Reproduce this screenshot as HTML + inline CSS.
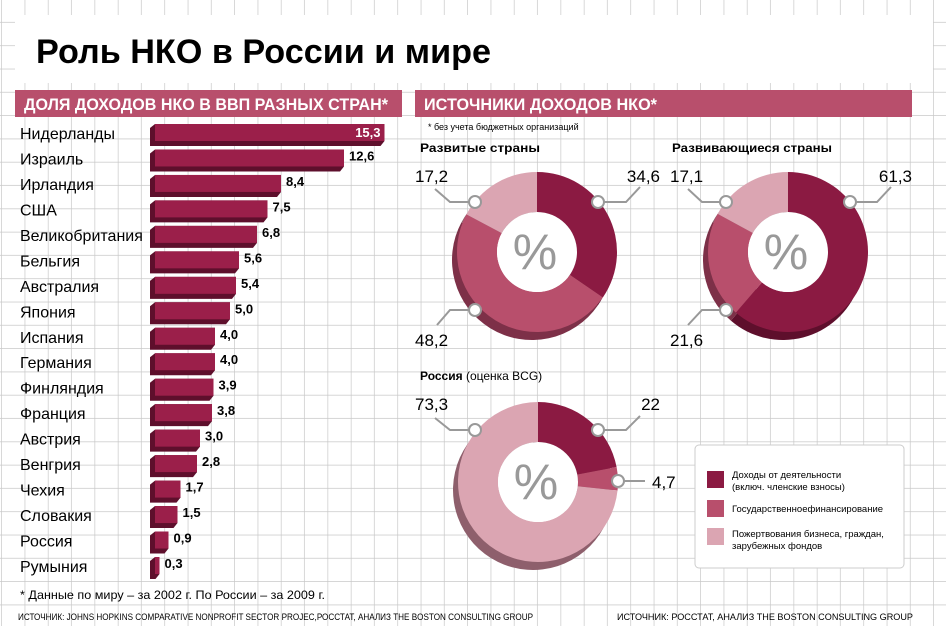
<!DOCTYPE html>
<html><head><meta charset="utf-8"><style>
html,body{margin:0;padding:0;background:#fff}
svg{display:block}
text{font-family:"Liberation Sans","DejaVu Sans",sans-serif}
</style></head><body>
<svg id="s" width="946" height="626" viewBox="0 0 946 626" xmlns="http://www.w3.org/2000/svg">
<defs>
<pattern id="g" x="2" y="-0.5" width="23.3" height="23.3" patternUnits="userSpaceOnUse">
<path d="M23.3 0V23.3M0 23.3H23.3" stroke="#c8c8c8" stroke-width="1.4" fill="none"/>
</pattern>
</defs>
<rect width="946" height="626" fill="#fff"/>
<rect width="946" height="626" fill="url(#g)"/>
<rect x="15" y="15" width="918" height="68" fill="#fff"/>
<text x="36" y="63" font-size="34" font-weight="bold" fill="#000" textLength="455" lengthAdjust="spacingAndGlyphs">Роль НКО в России и мире</text>
<rect x="15" y="90" width="387" height="27" fill="#b84f6c"/>
<text x="24" y="110" font-size="17" font-weight="bold" fill="#fff" textLength="364" lengthAdjust="spacingAndGlyphs">ДОЛЯ ДОХОДОВ НКО В ВВП РАЗНЫХ СТРАН*</text>
<rect x="415" y="90" width="497" height="27" fill="#b84f6c"/>
<text x="424" y="110" font-size="17" font-weight="bold" fill="#fff" textLength="233" lengthAdjust="spacingAndGlyphs">ИСТОЧНИКИ ДОХОДОВ НКО*</text>
<text x="428" y="130" font-size="9" fill="#000">* без учета бюджетных организаций</text>
<g id="bars"></g>
<text x="20" y="599" font-size="12" fill="#000" textLength="305" lengthAdjust="spacingAndGlyphs">* Данные по миру – за 2002 г. По России – за 2009 г.</text>
<text x="18" y="620" font-size="9.5" fill="#000" textLength="515" lengthAdjust="spacingAndGlyphs">ИСТОЧНИК: JOHNS HOPKINS COMPARATIVE NONPROFIT SECTOR PROJEC,РОССТАТ, АНАЛИЗ THE BOSTON CONSULTING GROUP</text>
<text x="617" y="620" font-size="9.5" fill="#000" textLength="296" lengthAdjust="spacingAndGlyphs">ИСТОЧНИК: РОССТАТ, АНАЛИЗ THE BOSTON CONSULTING GROUP</text>
<text x="420" y="152" font-size="12" font-weight="bold" textLength="120" lengthAdjust="spacingAndGlyphs">Развитые страны</text>
<text x="672" y="152" font-size="12" font-weight="bold" textLength="160" lengthAdjust="spacingAndGlyphs">Развивающиеся страны</text>
<text x="420" y="380" font-size="12"><tspan font-weight="bold">Россия</tspan> (оценка BCG)</text>
<g id="donuts"></g>
<rect x="695" y="445" width="209" height="123" rx="4" fill="#fff" stroke="#ccc"/>
<rect x="707" y="471" width="17" height="17" fill="#8b1a42"/>
<rect x="707" y="500" width="17" height="17" fill="#b84f6c"/>
<rect x="707" y="528" width="17" height="17" fill="#dba5b2"/>
<text x="732" y="478" font-size="9.5">Доходы от деятельности</text>
<text x="732" y="490" font-size="9.5">(включ. членские взносы)</text>
<text x="732" y="512" font-size="9.5">Государственноефинансирование</text>
<text x="732" y="537" font-size="9.5">Пожертвования бизнеса, граждан,</text>
<text x="732" y="549" font-size="9.5">зарубежных фондов</text>
</svg>
<script>
var NS="http://www.w3.org/2000/svg";
function el(p,t,a,txt){var e=document.createElementNS(NS,t);for(var k in a)e.setAttribute(k,a[k]);if(txt!==undefined)e.textContent=txt;p.appendChild(e);return e;}
var data=[["Нидерланды",15.3],["Израиль",12.6],["Ирландия",8.4],["США",7.5],["Великобритания",6.8],["Бельгия",5.6],["Австралия",5.4],["Япония",5.0],["Испания",4.0],["Германия",4.0],["Финляндия",3.9],["Франция",3.8],["Австрия",3.0],["Венгрия",2.8],["Чехия",1.7],["Словакия",1.5],["Россия",0.9],["Румыния",0.3]];
var b=document.getElementById("bars");
data.forEach(function(d,i){
 var cy=133+i*25.47,x0=155,w=d[1]*15,y=cy-9,h=17;
 el(b,"polygon",{points:(x0)+","+y+" "+(x0+w)+","+y+" "+(x0+w)+","+(y+h)+" "+(x0+w-4)+","+(y+h+5)+" "+(x0-5)+","+(y+h+5)+" "+(x0-5)+","+(y+4),fill:"#5e0f2c"});
 el(b,"rect",{x:x0,y:y,width:w,height:h,fill:"#9b1f4a"});
 el(b,"text",{x:20,y:cy+6,"font-size":16,fill:"#000"},d[0]);
 var lab=d[1].toFixed(1).replace(".",",");
 if(i==0) el(b,"text",{x:x0+w-4,y:cy+4,"font-size":13,"font-weight":"bold",fill:"#fff","text-anchor":"end"},lab);
 else el(b,"text",{x:x0+w+5,y:cy+2,"font-size":13,"font-weight":"bold",fill:"#000"},lab);
});
var dn=document.getElementById("donuts");
var cols=["#8b1a42","#b84f6c","#dba5b2"],sh=["#5e0f2c","#7d3048","#8e5f6c"];
function arc(cx,cy,R,r,a0,a1){
 function p(rad,a){return [cx+rad*Math.sin(a),cy-rad*Math.cos(a)];}
 var l=(a1-a0)>Math.PI?1:0,A=p(R,a0),B=p(R,a1),C=p(r,a1),D=p(r,a0);
 return "M"+A+" A"+R+","+R+" 0 "+l+" 1 "+B+" L"+C+" A"+r+","+r+" 0 "+l+" 0 "+D+"Z";
}
function donut(cx,cy,vals){
 var R=80,r=40,a=0,tot=vals.reduce(function(s,v){return s+v},0);
 var angs=[];vals.forEach(function(v){var a1=a+v/tot*2*Math.PI;angs.push([a,a1]);a=a1;});
 angs.forEach(function(q,i){el(dn,"path",{d:arc(cx-5,cy+8,R,r,q[0],q[1]-0.0001),fill:sh[i]});});
 angs.forEach(function(q,i){el(dn,"path",{d:arc(cx,cy,R,r,q[0],q[1]-0.0001),fill:cols[i]});});
 el(dn,"circle",{cx:cx,cy:cy,r:r,fill:"#fff"});
 el(dn,"text",{x:cx-2,y:cy+17,"font-size":50,fill:"#999","text-anchor":"middle"},"%");
}
function conn(pts,cx,cy){
 el(dn,"polyline",{points:pts,fill:"none",stroke:"#999","stroke-width":2});
 el(dn,"circle",{cx:cx,cy:cy,r:6,fill:"#fff",stroke:"#999","stroke-width":2});
}
function lbl(x,y,t,anchor){el(dn,"text",{x:x,y:y,"font-size":17,fill:"#000","text-anchor":anchor||"start"},t);}
donut(537,252,[34.6,48.2,17.2]);
donut(788,252,[61.3,21.6,17.1]);
donut(538,482,[22,4.7,73.3]);
conn("435,189 450,202 475,202",475,202);conn("640,187 626,202 598,202",598,202);conn("437,325 450,310 475,310",475,310);
lbl(415,182,"17,2");lbl(660,182,"34,6","end");lbl(415,346,"48,2");
conn("688,189 702,202 726,202",726,202);conn("891,187 877,202 850,202",850,202);conn("688,325 702,310 726,310",726,310);
lbl(670,182,"17,1");lbl(912,182,"61,3","end");lbl(670,346,"21,6");
conn("435,418 450,430 475,430",475,430);conn("640,416 626,430 598,430",598,430);conn("618,481 645,481",618,481);
lbl(415,410,"73,3");lbl(660,410,"22","end");lbl(652,488,"4,7");
</script>
</body></html>
